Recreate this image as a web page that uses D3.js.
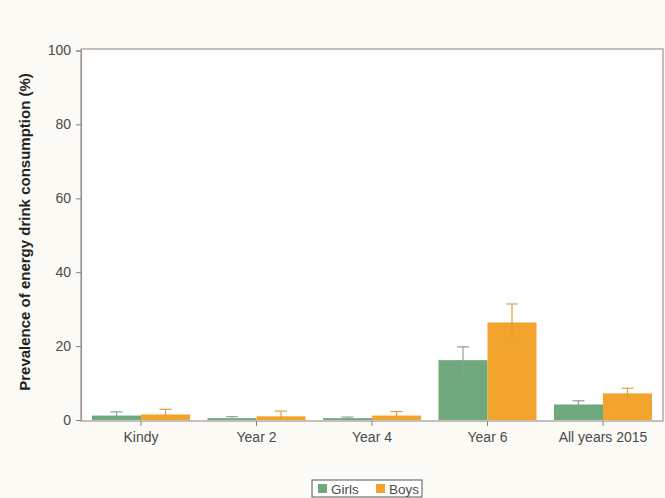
<!DOCTYPE html>
<html><head><meta charset="utf-8">
<script src="https://cdn.jsdelivr.net/npm/d3@7"></script>
<style>
html,body{margin:0;padding:0;background:#fbfaf4;}
svg{display:block;font-family:"Liberation Sans",Arial,sans-serif;}
</style></head>
<body>
<svg id="chart" width="665" height="498"></svg>
<script>
const categories = ["Kindy", "Year 2", "Year 4", "Year 6", "All years 2015"];
const seriesNames = ["Girls", "Boys"];
const girls = [1.2, 0.5, 0.5, 16.2, 4.2];
const girlsUpper = [2.2, 0.9, 0.8, 19.8, 5.2];
const girlsLower = [0.6, 0.2, 0.2, 12.4, 3.3];
const boys = [1.5, 1.0, 1.2, 26.4, 7.2];
const boysUpper = [2.9, 2.4, 2.3, 31.4, 8.6];
const boysLower = [0.6, 0.3, 0.5, 21.6, 6.0];
const yTicks = [0, 20, 40, 60, 80, 100];
const colors = ["#70a87d", "#f2a42c"];
const errColors = ["#8aa596", "#d9a04a"];

const svg = d3.select("#chart");
const pL = 81, pR = 663, pT = 49, pB = 421;

svg.append("rect").attr("x", pL).attr("y", pT).attr("width", pR-pL).attr("height", pB-pT).attr("fill", "#ffffff");

const y = d3.scaleLinear().domain([0, 100]).range([420, 50.5]);
const x = d3.scaleBand().domain(categories).range([83.25, 660.75]).paddingInner(0).paddingOuter(0);
const xs = d3.scaleBand().domain(seriesNames).range([x.bandwidth()/2 - 49, x.bandwidth()/2 + 49]);

const data = categories.map((c, i) => ({
  cat: c,
  vals: [
    {s: "Girls", v: girls[i], lo: girlsLower[i], hi: girlsUpper[i], k: 0},
    {s: "Boys", v: boys[i], lo: boysLower[i], hi: boysUpper[i], k: 1}
  ]
}));

const g = svg.append("g");
const groups = g.selectAll("g.cat").data(data).join("g")
  .attr("transform", d => `translate(${x(d.cat)},0)`);

groups.selectAll("rect.bar").data(d => d.vals).join("rect")
  .attr("x", d => xs(d.s)).attr("width", xs.bandwidth())
  .attr("y", d => y(d.v)).attr("height", d => y(0) - y(d.v))
  .attr("fill", d => colors[d.k]);

groups.selectAll("line.err").data(d => d.vals).join("line")
  .attr("x1", d => xs(d.s) + xs.bandwidth()/2).attr("x2", d => xs(d.s) + xs.bandwidth()/2)
  .attr("y1", d => y(d.lo)).attr("y2", d => y(d.hi))
  .attr("stroke", d => errColors[d.k]).attr("stroke-width", 1.2);
groups.selectAll("line.cap").data(d => d.vals).join("line")
  .attr("x1", d => xs(d.s) + xs.bandwidth()/2 - 6).attr("x2", d => xs(d.s) + xs.bandwidth()/2 + 6)
  .attr("y1", d => y(d.hi)).attr("y2", d => y(d.hi))
  .attr("stroke", d => errColors[d.k]).attr("stroke-width", 1.2);

// frame
svg.append("rect").attr("x", pL).attr("y", pT).attr("width", pR-pL).attr("height", pB-pT)
  .attr("fill", "none").attr("stroke", "#a0958d").attr("stroke-width", 1.2);

// y axis
const yAxis = svg.append("g").attr("transform", `translate(${pL},0)`)
  .call(d3.axisLeft(y).tickValues(yTicks).tickSize(5).tickPadding(5));
yAxis.select(".domain").attr("stroke", "#a0958d").attr("stroke-width", 1.2);
yAxis.selectAll(".tick line").attr("stroke", "#8a807a");
yAxis.selectAll(".tick text").attr("font-size", 14).attr("fill", "#4a4a4a");

// x axis
const xAxis = svg.append("g").attr("transform", `translate(0,${pB})`)
  .call(d3.axisBottom(x).tickSize(5).tickPadding(6));
xAxis.select(".domain").remove();
xAxis.selectAll(".tick line").attr("stroke", "#8a807a");
xAxis.selectAll(".tick text").attr("font-size", 14).attr("fill", "#4a4a4a");

// y title
svg.append("text").attr("transform", "translate(30,232) rotate(-90)")
  .attr("text-anchor", "middle").attr("font-size", 15).attr("font-weight", "bold").attr("fill", "#222")
  .text("Prevalence of energy drink consumption (%)");

// legend
const lg = svg.append("g").attr("transform", "translate(312,480)");
lg.append("rect").attr("x", 0).attr("y", 0).attr("width", 110).attr("height", 17)
  .attr("fill", "#ffffff").attr("stroke", "#555").attr("stroke-width", 1);
seriesNames.forEach((s, i) => {
  const ox = i === 0 ? 6 : 64;
  lg.append("rect").attr("x", ox).attr("y", 4).attr("width", 9).attr("height", 9).attr("fill", colors[i]);
  lg.append("text").attr("x", ox + 13).attr("y", 13.5).attr("font-size", 13.5).attr("fill", "#4a4a4a").text(s);
});
</script>
</body></html>
